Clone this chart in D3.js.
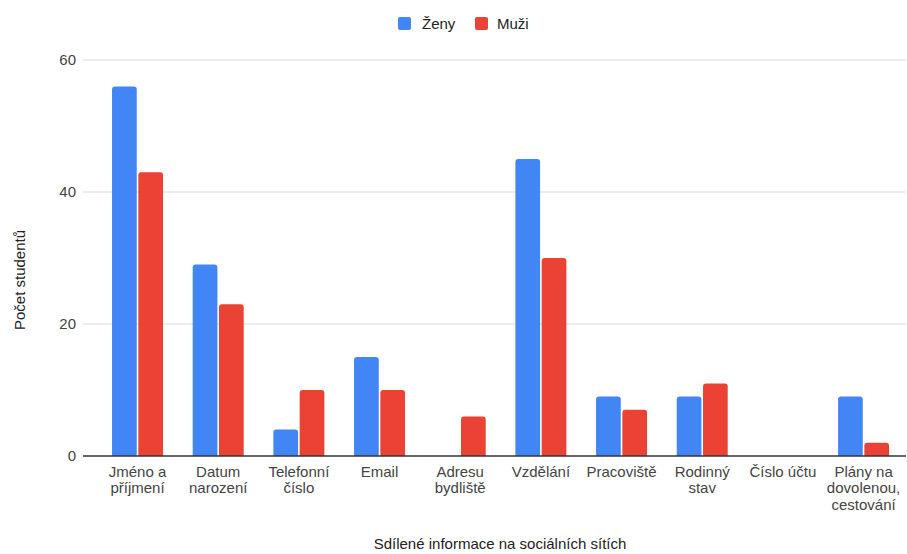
<!DOCTYPE html>
<html>
<head>
<meta charset="utf-8">
<script src="https://cdn.jsdelivr.net/npm/d3@7"></script>
<style>
  html, body { margin: 0; padding: 0; background: #fff; }
  svg { display: block; font-family: Arial, "Liberation Sans", sans-serif; }
</style>
</head>
<body>
<svg id="chart" width="907" height="554"></svg>
<script>
// Shared information on social networks, by gender
const categories = [
  ["Jméno a", "příjmení"],
  ["Datum", "narození"],
  ["Telefonní", "číslo"],
  ["Email"],
  ["Adresu", "bydliště"],
  ["Vzdělání"],
  ["Pracoviště"],
  ["Rodinný", "stav"],
  ["Číslo účtu"],
  ["Plány na", "dovolenou,", "cestování"]
];
const seriesNames = ["Ženy", "Muži"];
const zeny = [56, 29, 4, 15, 0, 45, 9, 9, 0, 9];
const muzi = [43, 23, 10, 10, 6, 30, 7, 11, 0, 2];
const yTicks = [0, 20, 40, 60];
const colors = ["#4285F4", "#EA4335"];

const FONT = "Arial, 'Liberation Sans', sans-serif";
const FS = 15;
const svg = d3.select("#chart");
const gridLeft = 83, gridRight = 906;
const plotTop = 60, plotBottom = 456;

const keys = categories.map((c, i) => i);
const x0 = d3.scaleBand().domain(keys).range([97.2, 903.9]).padding(0);
const groupW = 51;
const x1 = d3.scaleBand().domain(seriesNames).range([0, groupW]).paddingInner(0.06);
const y = d3.scaleLinear().domain([0, 60]).range([plotBottom, plotTop]);

// gridlines
svg.append("g")
  .selectAll("line")
  .data(yTicks.filter(t => t !== 0))
  .join("line")
  .attr("x1", gridLeft).attr("x2", gridRight)
  .attr("y1", d => y(d)).attr("y2", d => y(d))
  .attr("stroke", "#d9d9d9").attr("stroke-width", 1);

// y tick labels
const yAxis = d3.axisLeft(y).tickValues(yTicks).tickSize(0).tickPadding(0);
const yg = svg.append("g").attr("transform", `translate(${gridLeft - 7},0)`).call(yAxis);
yg.select(".domain").remove();
yg.selectAll("text")
  .attr("font-family", FONT)
  .attr("font-size", FS).attr("fill", "#444");

// bars with rounded tops
function barPath(xp, w, yTop, yBase, r) {
  const h = yBase - yTop;
  if (h <= 0) return "";
  r = Math.min(r, h, w / 2);
  return `M${xp},${yBase}V${yTop + r}Q${xp},${yTop} ${xp + r},${yTop}H${xp + w - r}Q${xp + w},${yTop} ${xp + w},${yTop + r}V${yBase}Z`;
}

const rows = keys.map(i => ({ i, vals: [zeny[i], muzi[i]] }));
const groups = svg.append("g").selectAll("g")
  .data(rows).join("g")
  .attr("transform", d => `translate(${x0(d.i) + x0.bandwidth() / 2 - groupW / 2},0)`);
groups.selectAll("path")
  .data(d => d.vals.map((v, k) => ({ v, k })))
  .join("path")
  .attr("d", d => barPath(x1(seriesNames[d.k]), x1.bandwidth(), y(d.v), y(0), 3))
  .attr("fill", d => colors[d.k]);

// baseline
svg.append("line")
  .attr("x1", gridLeft).attr("x2", gridRight)
  .attr("y1", y(0)).attr("y2", y(0))
  .attr("stroke", "#333").attr("stroke-width", 1.3);

// category labels
const xl = svg.append("g");
rows.forEach(d => {
  const t = xl.append("text")
    .attr("x", x0(d.i) + x0.bandwidth() / 2)
    .attr("y", 476.5)
    .attr("text-anchor", "middle")
    .attr("font-size", FS).attr("fill", "#444");
  categories[d.i].forEach((line, j) => {
    t.append("tspan")
      .attr("x", x0(d.i) + x0.bandwidth() / 2)
      .attr("dy", j === 0 ? 0 : 16.5)
      .text(line);
  });
});

// axis titles
svg.append("text")
  .attr("x", 500).attr("y", 549)
  .attr("text-anchor", "middle")
  .attr("font-size", FS).attr("fill", "#222")
  .text("Sdílené informace na sociálních sítích");

svg.append("text")
  .attr("transform", "translate(25,280) rotate(-90)")
  .attr("text-anchor", "middle")
  .attr("font-size", FS).attr("fill", "#222")
  .text("Počet studentů");

// legend
const legendItems = [
  { name: seriesNames[0], color: colors[0], x: 398, tx: 422 },
  { name: seriesNames[1], color: colors[1], x: 475, tx: 497 }
];
const lg = svg.append("g");
legendItems.forEach(it => {
  lg.append("rect")
    .attr("x", it.x).attr("y", 17).attr("width", 13).attr("height", 13)
    .attr("rx", 2).attr("fill", it.color);
  lg.append("text")
    .attr("x", it.tx).attr("y", 29)
    .attr("font-size", FS).attr("fill", "#222")
    .text(it.name);
});
</script>
</body>
</html>
